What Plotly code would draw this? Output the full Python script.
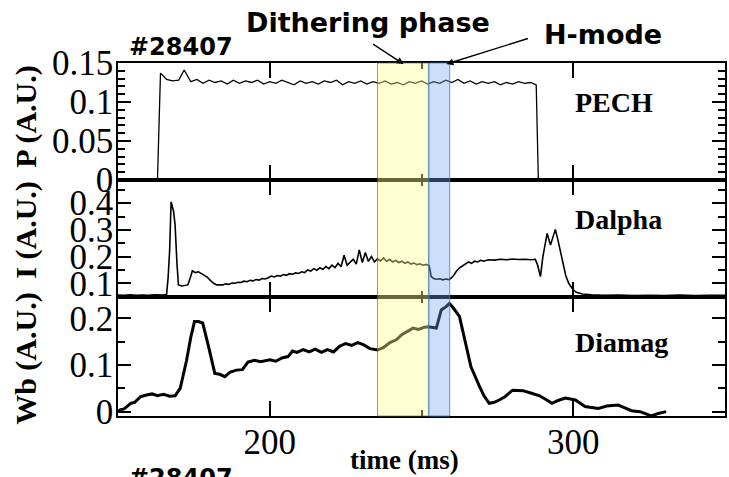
import plotly.graph_objects as go
from plotly.subplots import make_subplots

# ---------------- data ----------------
PECH_T = [150, 163.0, 164.0, 166, 168, 170, 171.8, 174, 176, 178,
          180, 182, 184, 186, 188, 190, 192, 194, 196, 198,
          200, 202, 204, 206, 208, 210, 212, 214, 216, 218,
          220, 222, 224, 226, 228, 230, 232, 234, 236, 238,
          240, 242, 244, 246, 248, 250, 252, 254, 256, 258,
          260, 262, 264, 266, 268, 270, 272, 274, 276, 278,
          280, 282, 284, 286, 287.8, 288.5, 350]
PECH_V = [0, 0, 0.137, 0.129, 0.127, 0.128, 0.141, 0.126, 0.129, 0.124,
          0.128, 0.125, 0.127, 0.123, 0.128, 0.124, 0.127, 0.125, 0.128, 0.123,
          0.126, 0.124, 0.128, 0.125, 0.122, 0.127, 0.124, 0.126, 0.123, 0.127,
          0.125, 0.128, 0.122, 0.126, 0.124, 0.127, 0.123, 0.126, 0.124, 0.127,
          0.123, 0.125, 0.122, 0.126, 0.124, 0.127, 0.123, 0.126, 0.124, 0.128,
          0.125, 0.129, 0.124, 0.127, 0.123, 0.126, 0.124, 0.126, 0.122, 0.125,
          0.123, 0.126, 0.124, 0.125, 0.122, 0, 0]

DALPHA_T = [150, 152, 154, 156, 158, 160, 162, 164, 165, 166,
            166.5, 167, 167.5, 168.3, 168.8, 169.4, 169.9, 171, 172, 173,
            173.8, 174.5, 175.5, 176.5, 177.5, 178.5, 179.5, 180.5, 181.5, 182.5,
            183.5, 184.5, 185.5, 186.5, 187.5, 188.5, 189.5, 190.5, 191.5, 192.5,
            193.5, 194.5, 195.5, 196.5, 197.5, 198.5, 199.5, 200.5, 201.5, 202.5,
            203.5, 204.5, 205.5, 206.5, 207.5, 208.5, 209.5, 210.5, 211.5, 212.5,
            213.5, 214.5, 215.5, 216.5, 217.5, 218.5, 219.5, 220.5, 221.5, 222.5,
            223.5, 224.5, 225.5, 226.5, 227.5, 228.5, 229.5, 230.5, 231.5, 232.5,
            233.5, 234.5, 235.5, 236.5, 237.5, 238.5, 239.5, 240.5, 241.5, 242.5,
            243.5, 244.5, 245.5, 246.5, 247.5, 248.5, 249.5, 250.5, 251.5, 252.5,
            253.2, 254, 255, 256, 257, 258, 259, 259.6, 260.5, 261.5,
            262.5, 263.5, 264.5, 265.5, 266.5, 267.5, 268.5, 269.5, 270.5, 272,
            274, 276, 278, 280, 282, 284, 286, 287.5, 288.2, 289.2,
            290, 291.4, 292.5, 294.1, 295, 296.3, 297.5, 298.5, 300, 301,
            303, 306, 310, 315, 320, 325, 330, 335, 340, 345,
            350]
DALPHA_V = [0.056, 0.055, 0.057, 0.055, 0.056, 0.055, 0.057, 0.055, 0.056, 0.058,
            0.12, 0.22, 0.405, 0.37, 0.32, 0.18, 0.094, 0.09, 0.092, 0.094,
            0.12, 0.147, 0.140, 0.143, 0.136, 0.130, 0.122, 0.110, 0.100, 0.094,
            0.095, 0.094, 0.098, 0.096, 0.101, 0.100, 0.104, 0.103, 0.108, 0.106,
            0.111, 0.109, 0.114, 0.112, 0.118, 0.116, 0.121, 0.127, 0.124, 0.129,
            0.127, 0.133, 0.130, 0.136, 0.134, 0.139, 0.137, 0.143, 0.140, 0.150,
            0.146, 0.155, 0.149, 0.158, 0.152, 0.163, 0.155, 0.168, 0.159, 0.175,
            0.162, 0.205, 0.168, 0.180, 0.190, 0.172, 0.225, 0.178, 0.215, 0.182,
            0.200, 0.180, 0.192, 0.184, 0.195, 0.182, 0.190, 0.180, 0.186, 0.178,
            0.183, 0.175, 0.180, 0.172, 0.176, 0.170, 0.173, 0.168, 0.171, 0.166,
            0.125, 0.118, 0.115, 0.117, 0.113, 0.116, 0.114, 0.118, 0.128, 0.145,
            0.158, 0.165, 0.172, 0.180, 0.175, 0.183, 0.180, 0.186, 0.183, 0.188,
            0.187, 0.190, 0.188, 0.191, 0.189, 0.190, 0.188, 0.190, 0.170, 0.125,
            0.200, 0.287, 0.243, 0.302, 0.260, 0.187, 0.130, 0.100, 0.075, 0.066,
            0.060, 0.057, 0.055, 0.056, 0.054, 0.055, 0.054, 0.056, 0.054, 0.055,
            0.055]

DIAMAG_T = [150, 150.7, 152, 154.2, 155.5, 157.4, 159, 161.2, 163, 165,
            167, 168.8, 170.5, 172.6, 174, 175.2, 176.5, 177.9, 179.7, 181.9,
            183.5, 185.2, 187, 189, 191, 192.8, 195, 197, 200, 202,
            204, 206, 207.5, 209, 211, 213, 215, 217, 219, 221,
            223, 225, 227, 229, 231, 233, 235.5, 237.4, 239.6, 241.7,
            243.5, 245, 247.2, 249, 251, 252.2, 254, 254.9, 256.5, 258.1,
            259.2, 260.5, 262.5, 264.2, 266.3, 269.1, 270.5, 272.3, 274, 275.6,
            277.5, 280, 283.4, 286, 288.9, 291, 293, 295, 297.4, 300.7,
            303.9, 306, 308.3, 311, 314.8, 317, 319.2, 322, 325.7, 328,
            330.6]
DIAMAG_V = [0.0, 0.004, 0.006, 0.018, 0.020, 0.032, 0.035, 0.038, 0.034, 0.037,
            0.033, 0.034, 0.050, 0.110, 0.160, 0.193, 0.193, 0.190, 0.143, 0.082,
            0.080, 0.075, 0.085, 0.089, 0.090, 0.106, 0.110, 0.107, 0.111, 0.108,
            0.115, 0.118, 0.130, 0.127, 0.133, 0.128, 0.134, 0.127, 0.133, 0.128,
            0.140, 0.146, 0.142, 0.148, 0.143, 0.135, 0.132, 0.137, 0.148, 0.154,
            0.165, 0.171, 0.179, 0.176, 0.181, 0.182, 0.180, 0.179, 0.218, 0.225,
            0.232, 0.222, 0.204, 0.154, 0.096, 0.054, 0.035, 0.018, 0.020, 0.025,
            0.032, 0.046, 0.045, 0.040, 0.034, 0.026, 0.018, 0.024, 0.029, 0.025,
            0.011, 0.009, 0.007, 0.012, 0.014, 0.008, 0.002, 0.000, -0.009, -0.004,
            0.000]

DITHER_PHASE = [235.5, 252.4]   # ms
HMODE_PHASE = [252.4, 259.3]    # ms
PANEL_LABELS = ["PECH", "Dalpha", "Diamag"]
Y_TITLES = ["P (A.U.)", "I (A.U.)", "Wb (A.U.)"]
SHOT = "#28407"

# ---------------- figure ----------------
SERIF = "Liberation Serif"
SANS_B = "DejaVu Sans"
TICKFONT = dict(family=SERIF, size=35, color="black")

fig = make_subplots(rows=3, cols=1, shared_xaxes=True, vertical_spacing=0)
fig.add_trace(go.Scatter(x=PECH_T, y=PECH_V, mode="lines",
                         line=dict(color="black", width=1.3)), row=1, col=1)
fig.add_trace(go.Scatter(x=DALPHA_T, y=DALPHA_V, mode="lines",
                         line=dict(color="black", width=1.6)), row=2, col=1)
fig.add_trace(go.Scatter(x=DIAMAG_T, y=DIAMAG_V, mode="lines",
                         line=dict(color="black", width=3)), row=3, col=1)

xcommon = dict(range=[150, 350], showline=True, linecolor="black", linewidth=1.5,
               mirror="allticks", ticks="inside", ticklen=15, tickwidth=1.5,
               tickcolor="black", tick0=0, dtick=100, showgrid=False, zeroline=False,
               minor=dict(dtick=50, ticks="inside", ticklen=6, tickwidth=1.5,
                          tickcolor="black", showgrid=False),
               tickfont=TICKFONT)
for i in (1, 2, 3):
    fig.update_xaxes(**xcommon, row=i, col=1)
fig.update_xaxes(showticklabels=True, ticklabelstandoff=-6, row=3, col=1)

ycommon = dict(showline=True, linecolor="black", linewidth=1.5, mirror="allticks",
               ticks="inside", ticklen=13, tickwidth=1.5, tickcolor="black",
               showgrid=False, zeroline=False, tick0=0, tickfont=TICKFONT,
               ticklabelstandoff=-4)
fig.update_yaxes(**ycommon, range=[0, 0.15], dtick=0.05,
                 minor=dict(dtick=0.01, ticks="inside", ticklen=7, tickwidth=1.5,
                            tickcolor="black", showgrid=False),
                 domain=[0.6686, 1.0], row=1, col=1)
fig.update_yaxes(**ycommon, range=[0.0487, 0.487], dtick=0.1,
                 minor=dict(dtick=0.05, ticks="inside", ticklen=7, tickwidth=1.5,
                            tickcolor="black", showgrid=False),
                 domain=[0.3371, 0.6686], row=2, col=1)
fig.update_yaxes(**ycommon, range=[-0.0093, 0.2456], dtick=0.1,
                 minor=dict(dtick=0.05, ticks="inside", ticklen=7, tickwidth=1.5,
                            tickcolor="black", showgrid=False),
                 domain=[0.0, 0.3371], row=3, col=1)

# phase bands
fig.add_shape(type="rect", xref="x", yref="paper", x0=DITHER_PHASE[0], x1=DITHER_PHASE[1],
              y0=0, y1=1, fillcolor="rgba(255,255,140,0.40)",
              line=dict(color="rgba(90,90,60,0.6)", width=1), layer="above")
fig.add_shape(type="rect", xref="x", yref="paper", x0=HMODE_PHASE[0], x1=HMODE_PHASE[1],
              y0=0, y1=1, fillcolor="rgba(110,165,235,0.36)",
              line=dict(color="rgba(60,120,210,0.8)", width=1), layer="above")

ann = []
# y titles
for txt, yc in zip(Y_TITLES, [0.847, 0.527, 0.164]):
    ann.append(dict(text="<b>%s</b>" % txt, xref="paper", yref="paper", x=-0.152, y=yc,
                    xanchor="center", yanchor="middle", textangle=-90, showarrow=False,
                    font=dict(family=SERIF, size=30, color="black")))
# panel labels
for txt, ya, yc in zip(PANEL_LABELS, ["y", "y2", "y3"], [0.099, 0.340, 0.149]):
    ann.append(dict(text="<b>%s</b>" % txt, xref="x", yref=ya, x=300, y=yc,
                    xanchor="left", yanchor="middle", showarrow=False,
                    font=dict(family=SERIF, size=28, color="black")))
# x title
ann.append(dict(text="<b>time (ms)</b>", xref="paper", yref="paper", x=(405 - 118) / 609,
                y=(416 - 460) / 353, xanchor="center", yanchor="middle", showarrow=False,
                font=dict(family=SERIF, size=27, color="black")))
# shot numbers
ann.append(dict(text="<b>%s</b>" % SHOT, xref="paper", yref="paper", x=(181 - 118) / 609,
                y=(416 - 47) / 353, xanchor="center", yanchor="middle", showarrow=False,
                font=dict(family=SANS_B, size=24, color="black")))
ann.append(dict(text="<b>%s</b>" % SHOT, xref="paper", yref="paper", x=(181 - 118) / 609,
                y=(416 - 478) / 353, xanchor="center", yanchor="middle", showarrow=False,
                font=dict(family=SANS_B, size=24, color="black")))
# phase titles
ann.append(dict(text="<b>Dithering phase</b>", xref="paper", yref="paper",
                x=(369 - 118) / 609, y=(416 - 22) / 353, xanchor="center", yanchor="middle",
                showarrow=False, font=dict(family=SANS_B, size=27, color="black")))
ann.append(dict(text="<b>H-mode</b>", xref="paper", yref="paper",
                x=(605 - 118) / 609, y=(416 - 34) / 353, xanchor="center", yanchor="middle",
                showarrow=False, font=dict(family=SANS_B, size=27, color="black")))
# arrows
ann.append(dict(text="", xref="x", yref="paper", x=244.1, y=0.997, ax=-32, ay=-21,
                showarrow=True, arrowhead=2, arrowsize=1, arrowwidth=1.4, arrowcolor="black"))
ann.append(dict(text="", xref="x", yref="paper", x=258.2, y=0.997, ax=83, ay=-26,
                showarrow=True, arrowhead=2, arrowsize=1, arrowwidth=1.4, arrowcolor="black"))

fig.update_layout(width=729, height=477, autosize=False, showlegend=False,
                  font=dict(family=SERIF, size=35, color="black"),
                  margin=dict(l=118, r=2, t=63, b=61),
                  paper_bgcolor="white", plot_bgcolor="white", annotations=ann)

fig.write_html("out.html")
